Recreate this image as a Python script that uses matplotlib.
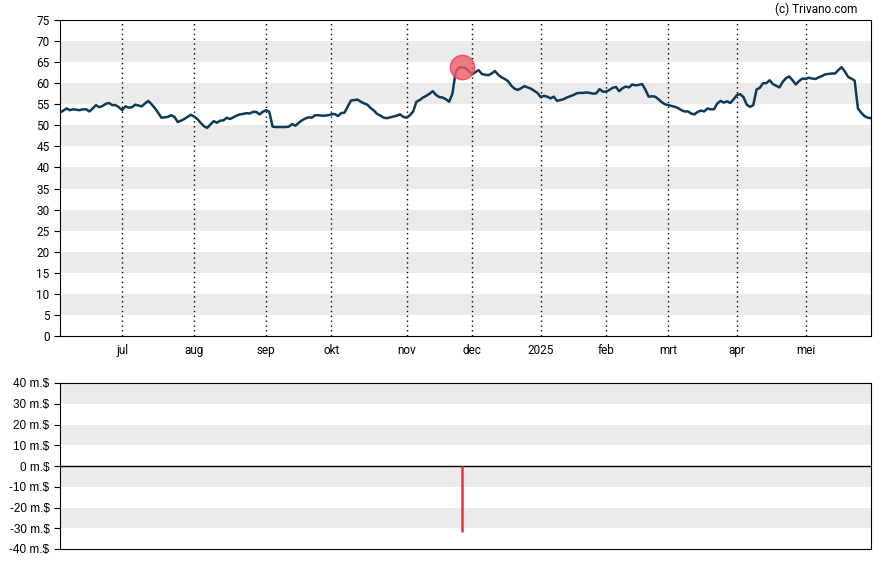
import numpy as np
import pandas as pd
import matplotlib
matplotlib.use("Agg")
import matplotlib.pyplot as plt

plt.rcParams['font.family'] = ['Roboto', 'DejaVu Sans']

# Handelsdagen (NYSE) van juni 2024 t/m mei 2025
holidays = ["2024-06-19", "2024-07-04", "2024-09-02", "2024-11-28", "2024-12-25",
            "2025-01-01", "2025-01-09", "2025-01-20", "2025-02-17", "2025-04-18",
            "2025-05-26"]
dates = pd.bdate_range("2024-06-03", "2025-05-30")
dates = dates[~dates.isin(pd.to_datetime(holidays))]

prices = [
    # jun
    53.0, 53.5, 54.0, 53.6, 53.8, 53.7, 53.6, 53.8, 53.8, 53.3,
    54.0, 54.8, 54.3, 54.6, 55.1, 55.3, 54.8, 54.8, 54.3,
    # jul
    53.6, 54.5, 54.2, 54.3, 54.9, 54.7, 54.5, 55.2, 55.8, 55.0,
    54.1, 53.0, 51.8, 51.9, 52.0, 52.4, 52.0, 50.8, 51.1, 51.5,
    52.0, 52.5,
    # aug
    52.1, 51.5, 50.6, 49.8, 49.4, 50.2, 51.0, 50.6, 51.1, 51.2,
    51.8, 51.5, 51.9, 52.3, 52.6, 52.7, 52.9, 52.8, 53.2, 53.2,
    52.6, 53.2,
    # sep
    53.6, 53.2, 49.7, 49.6, 49.6, 49.6, 49.6, 49.7, 50.3, 49.9,
    50.6, 51.2, 51.6, 51.9, 51.8, 52.4, 52.4, 52.3, 52.3, 52.4,
    # okt
    52.6, 52.7, 52.2, 52.9, 53.0, 54.5, 55.9, 56.0, 56.1, 55.6,
    55.2, 54.9, 54.1, 53.5, 52.7, 52.3, 51.8, 51.7, 51.9, 52.1,
    52.3, 52.6, 52.0,
    # nov
    51.8, 52.4, 53.3, 55.6, 56.0, 56.6, 57.0, 57.5, 58.1, 57.2,
    56.7, 56.6, 56.2, 55.6, 57.5, 62.7, 63.7, 63.8, 63.6, 62.9,
    # dec
    62.1, 62.6, 63.1, 62.2, 62.0, 61.9, 62.3, 62.9, 62.0, 61.4,
    61.0, 60.5, 59.4, 58.7, 58.4, 58.8, 59.3, 59.0, 58.7, 58.2,
    57.7,
    # jan
    56.7, 57.0, 56.8, 56.4, 56.8, 55.8, 56.0, 56.2, 56.6, 56.9,
    57.2, 57.6, 57.7, 57.7, 57.8, 57.7, 57.5, 57.6, 58.6, 58.0,
    # feb
    58.0, 58.4, 58.9, 59.1, 58.1, 58.8, 59.2, 59.0, 59.7, 59.5,
    59.6, 59.8, 58.5, 56.8, 56.9, 56.8, 56.2, 55.5, 55.0,
    # mrt
    54.8, 54.6, 54.4, 54.1, 53.6, 53.3, 53.3, 52.8, 52.6, 53.2,
    53.5, 53.3, 54.0, 53.8, 53.8, 55.2, 55.8, 55.4, 55.7, 55.3,
    56.2,
    # apr
    57.2, 57.4, 56.7, 54.9, 54.4, 54.8, 58.5, 58.9, 60.0, 60.0,
    60.7, 59.8, 59.4, 59.0, 60.3, 61.2, 61.6, 60.7, 59.7, 60.5,
    61.1,
    # mei
    61.0, 61.3, 61.1, 61.0, 61.4, 61.7, 62.1, 62.2, 62.3, 62.3,
    63.1, 63.8, 62.8, 61.5, 61.1, 60.6, 54.0, 53.0, 52.2, 51.8,
    51.7,
]

month_labels = ["jul", "aug", "sep", "okt", "nov", "dec", "2025",
                "feb", "mrt", "apr", "mei"]

# Insider-transactie (miljoen $)
trade_date = "2024-11-26"
trade_value = -32

x = np.arange(len(prices))
month_start = [i for i in range(1, len(dates)) if dates[i].month != dates[i - 1].month]
trade_idx = int(np.where(dates == pd.Timestamp(trade_date))[0][0])

fig = plt.figure(figsize=(8.88, 5.65), dpi=100)
band = "#ebebeb"

# Koersgrafiek
ax = fig.add_axes([60 / 888, 1 - 336 / 565, 811 / 888, 316 / 565])
for lo in range(5, 75, 10):
    ax.axhspan(lo, lo + 5, color=band, lw=0, zorder=0)
for m in month_start:
    ax.axvline(m, color="black", ls=(0, (1, 2.5)), lw=1, zorder=1)
ax.plot(x, prices, color="#0e3a5a", lw=1.8, zorder=3)
ax.plot(trade_idx, prices[trade_idx], "o", ms=17.5, color="#ef5a68",
        alpha=0.8, mec="#e8404f", zorder=4)
ax.set_xlim(0, len(prices) - 1)
ax.set_ylim(0, 75)
ax.set_yticks(range(0, 76, 5))
ax.set_xticks(month_start)
ax.set_xticklabels(month_labels)
ax.tick_params(labelsize=8.5, length=4, width=0.8, colors="black")
ax.tick_params(axis="x", length=0, pad=6)
for s in ax.spines.values():
    s.set_linewidth(0.8)

# Insider-handel
ax2 = fig.add_axes([60 / 888, 1 - 549 / 565, 811 / 888, 166 / 565])
for lo in range(-30, 40, 20):
    ax2.axhspan(lo, lo + 10, color=band, lw=0, zorder=0)
ax2.axhline(0, color="black", lw=1, zorder=2)
ax2.vlines(trade_idx, 0, trade_value, color="#e8303f", lw=1.8, zorder=3)
ax2.set_xlim(0, len(prices) - 1)
ax2.set_ylim(-40, 40)
ax2.set_yticks(range(-40, 41, 10))
ax2.set_yticklabels([f"{v} m.$" for v in range(-40, 41, 10)],
                    family=["Liberation Sans", "DejaVu Sans"])
ax2.set_xticks([])
ax2.tick_params(labelsize=8.5, length=4, width=0.8)
for s in ax2.spines.values():
    s.set_linewidth(0.8)

fig.text(857 / 888, 1 - 9 / 565, "(c) Trivano.com", ha="right", va="center", fontsize=8.5)

fig.savefig("out.png", dpi=100)
